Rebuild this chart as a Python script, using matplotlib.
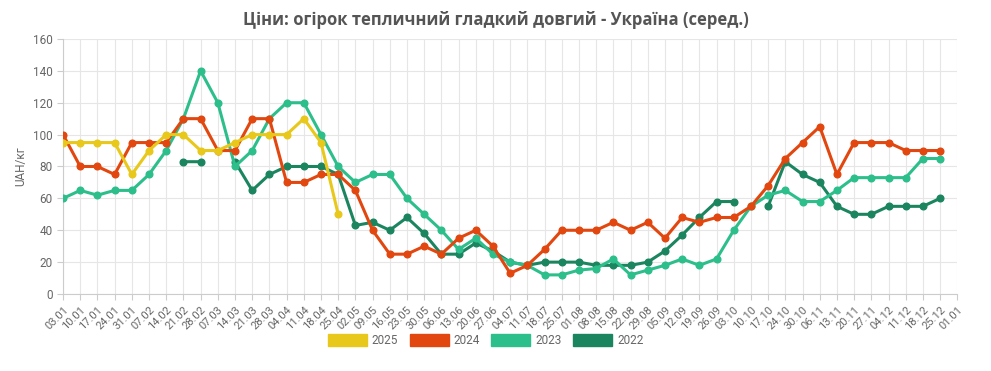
import numpy as np
import matplotlib
matplotlib.use("Agg")
import matplotlib.pyplot as plt
from matplotlib.patches import Patch

nan = np.nan

# weekly labels
weeks = ["03.01", "10.01", "17.01", "24.01", "31.01", "07.02", "14.02", "21.02",
         "28.02", "07.03", "14.03", "21.03", "28.03", "04.04", "11.04", "18.04",
         "25.04", "02.05", "09.05", "16.05", "23.05", "30.05", "06.06", "13.06",
         "20.06", "27.06", "04.07", "11.07", "18.07", "25.07", "01.08", "08.08",
         "15.08", "22.08", "29.08", "05.09", "12.09", "19.09", "26.09", "03.10",
         "10.10", "17.10", "24.10", "30.10", "06.11", "13.11", "20.11", "27.11",
         "04.12", "11.12", "18.12", "25.12", "01.01"]

y2025 = [95, 95, 95, 95, 75, 90, 100, 100, 90, 90, 95, 100, 100, 100, 110, 95, 50]

y2024 = [100, 80, 80, 75, 95, 95, 95, 110, 110, 90, 90, 110, 110, 70, 70, 75,
         75, 65, 40, 25, 25, 30, 25, 35, 40, 30, 13, 18, 28, 40, 40, 40,
         45, 40, 45, 35, 48, 45, 48, 48, 55, 68, 85, 95, 105, 75, 95, 95,
         95, 90, 90, 90]

y2023 = [60, 65, 62, 65, 65, 75, 90, 110, 140, 120, 80, 90, 110, 120, 120, 100,
         80, 70, 75, 75, 60, 50, 40, 28, 35, 25, 20, 18, 12, 12, 15, 16,
         22, 12, 15, 18, 22, 18, 22, 40, 55, 62, 65, 58, 58, 65, 73, 73,
         73, 73, 85, 85]

y2022 = [nan, nan, nan, nan, nan, nan, nan, 83, 83, nan, 83, 65, 75, 80, 80, 80,
         75, 43, 45, 40, 48, 38, 25, 25, 32, 27, 20, 18, 20, 20, 20, 18,
         18, 18, 20, 27, 37, 48, 58, 58, nan, 55, 83, 75, 70, 55, 50, 50,
         55, 55, 55, 60]

series = [("2025", y2025, "#e8c81a"),
          ("2024", y2024, "#e2470f"),
          ("2023", y2023, "#2dbf8b"),
          ("2022", y2022, "#1b8560")]

plt.rcParams["font.family"] = ["Roboto", "DejaVu Sans"]

fig = plt.figure(figsize=(9.91, 3.71), dpi=100)
ax = fig.add_axes([0.0636, 0.2075, 0.9024, 0.6875])

# older years first so 2025 ends up on top
for name, vals, col in reversed(series):
    x = np.arange(len(vals))
    ax.plot(x, vals, color=col, lw=2.2, marker="o", ms=4.8, zorder=3)

ax.set_xlim(0, len(weeks) - 1)
ax.set_ylim(0, 160)
ax.set_yticks(range(0, 161, 20))
ax.set_xticks(range(len(weeks)))
ax.set_xticklabels(weeks, rotation=45, ha="right", rotation_mode="anchor",
                   fontsize=8, color="#666666")
ax.tick_params(axis="y", labelsize=8.5, labelcolor="#666666", color="#cccccc", length=4)
ax.tick_params(axis="x", color="#cccccc", length=4)
ax.grid(True, color="#e6e6e6", lw=0.8)
ax.set_axisbelow(True)
for s in ["top", "right"]:
    ax.spines[s].set_visible(False)
for s in ["left", "bottom"]:
    ax.spines[s].set_color("#cccccc")

ax.set_ylabel("UAH/кг", fontsize=8.5, color="#666666")

fig.suptitle("Ціни: огірок тепличний гладкий довгий - Україна (серед.)",
             x=0.5, y=0.97, fontsize=12, fontweight="bold", color="#555555",
             family=["Open Sans", "DejaVu Sans"])

handles = [Patch(facecolor=c, edgecolor=c, label=n) for n, v, c in series]
fig.legend(handles=handles, loc="center", bbox_to_anchor=(0.49, 0.083), ncol=4,
           frameon=False, fontsize=8.5, handlelength=3.3, handleheight=1.2,
           columnspacing=1.0, handletextpad=0.4, labelcolor="#666666")

fig.savefig("out.png", dpi=100)
